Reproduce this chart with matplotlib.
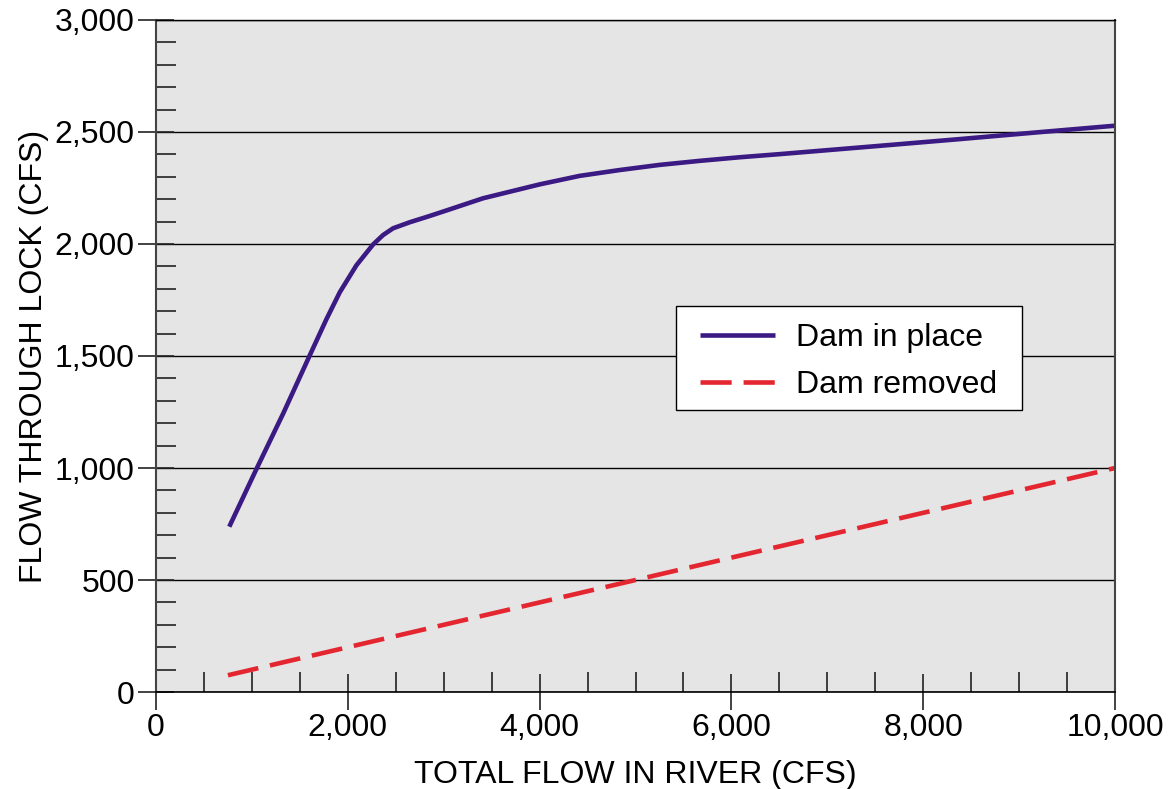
import matplotlib.pyplot as plt
from matplotlib.patches import Rectangle
from matplotlib.ticker import MultipleLocator, FuncFormatter

plt.rcParams['font.family'] = ['Liberation Sans', 'DejaVu Sans']

# Dam in place curve
x_dam = [764, 1049, 1327, 1597, 1778, 1917, 2090, 2264, 2368, 2472, 2646, 2854,
         3045, 3410, 4000, 4417, 4833, 5250, 5667, 6083, 6500, 7542, 8375, 9208,
         10000]
y_dam = [738, 997, 1244, 1497, 1665, 1785, 1905, 1998, 2040, 2070, 2097, 2125,
         2152, 2204, 2266, 2304, 2330, 2353, 2371, 2387, 2401, 2438, 2468, 2499,
         2528]

# Dam removed line
x_rem = [750, 10000]
y_rem = [75, 1000]

fig = plt.figure(figsize=(11.72, 7.89), dpi=100)
ax = fig.add_axes([0.1331, 0.1229, 0.8183, 0.8518])
ax.set_facecolor('#e5e5e5')

ax.set_xlim(0, 10000)
ax.set_ylim(0, 3000)

ax.yaxis.grid(True, which='major', color='black', linewidth=1.0)
ax.set_axisbelow(True)

ax.plot(x_dam, y_dam, color='#3b1a84', linewidth=3.3, solid_capstyle='butt',
        solid_joinstyle='round', label='Dam in place')
ax.plot(x_rem, y_rem, color='#e3262f', linewidth=3.3, dashes=(6.8, 2.6),
        dash_capstyle='butt', label='Dam removed')

ax.xaxis.set_major_locator(MultipleLocator(2000))
ax.xaxis.set_minor_locator(MultipleLocator(500))
ax.yaxis.set_major_locator(MultipleLocator(500))
ax.yaxis.set_minor_locator(MultipleLocator(100))
fmt = FuncFormatter(lambda v, p: f'{int(v):,}')
ax.xaxis.set_major_formatter(fmt)
ax.yaxis.set_major_formatter(fmt)

ax.tick_params(which='major', direction='inout', length=26.5, width=1.2,
               color='#222222', labelsize=23, pad=2)
ax.tick_params(which='minor', direction='in', length=14.4, width=1.2, color='#222222')

for side in ['left', 'right']:
    ax.spines[side].set_color('#444444')
    ax.spines[side].set_linewidth(1.5)
ax.spines['top'].set_color('black')
ax.spines['top'].set_linewidth(1.0)
ax.spines['bottom'].set_color('black')
ax.spines['bottom'].set_linewidth(1.2)

ax.set_xlabel('TOTAL FLOW IN RIVER (CFS)', fontsize=23, labelpad=12)
ax.set_ylabel('FLOW THROUGH LOCK (CFS)', fontsize=23, labelpad=4)

# legend box drawn by hand so the padding matches
ax.add_patch(Rectangle((0.5422, 0.4196), 0.3608, 0.1548, transform=ax.transAxes,
                       facecolor='white', edgecolor='black', linewidth=1.0, zorder=4))
leg = ax.legend(loc='upper left', bbox_to_anchor=(0.5673, 0.5485), fontsize=23,
                frameon=False, handlelength=2.35, handletextpad=0.66,
                borderpad=0, labelspacing=0.52, borderaxespad=0)
leg.set_zorder(5)

fig.savefig('out.png', dpi=100)
